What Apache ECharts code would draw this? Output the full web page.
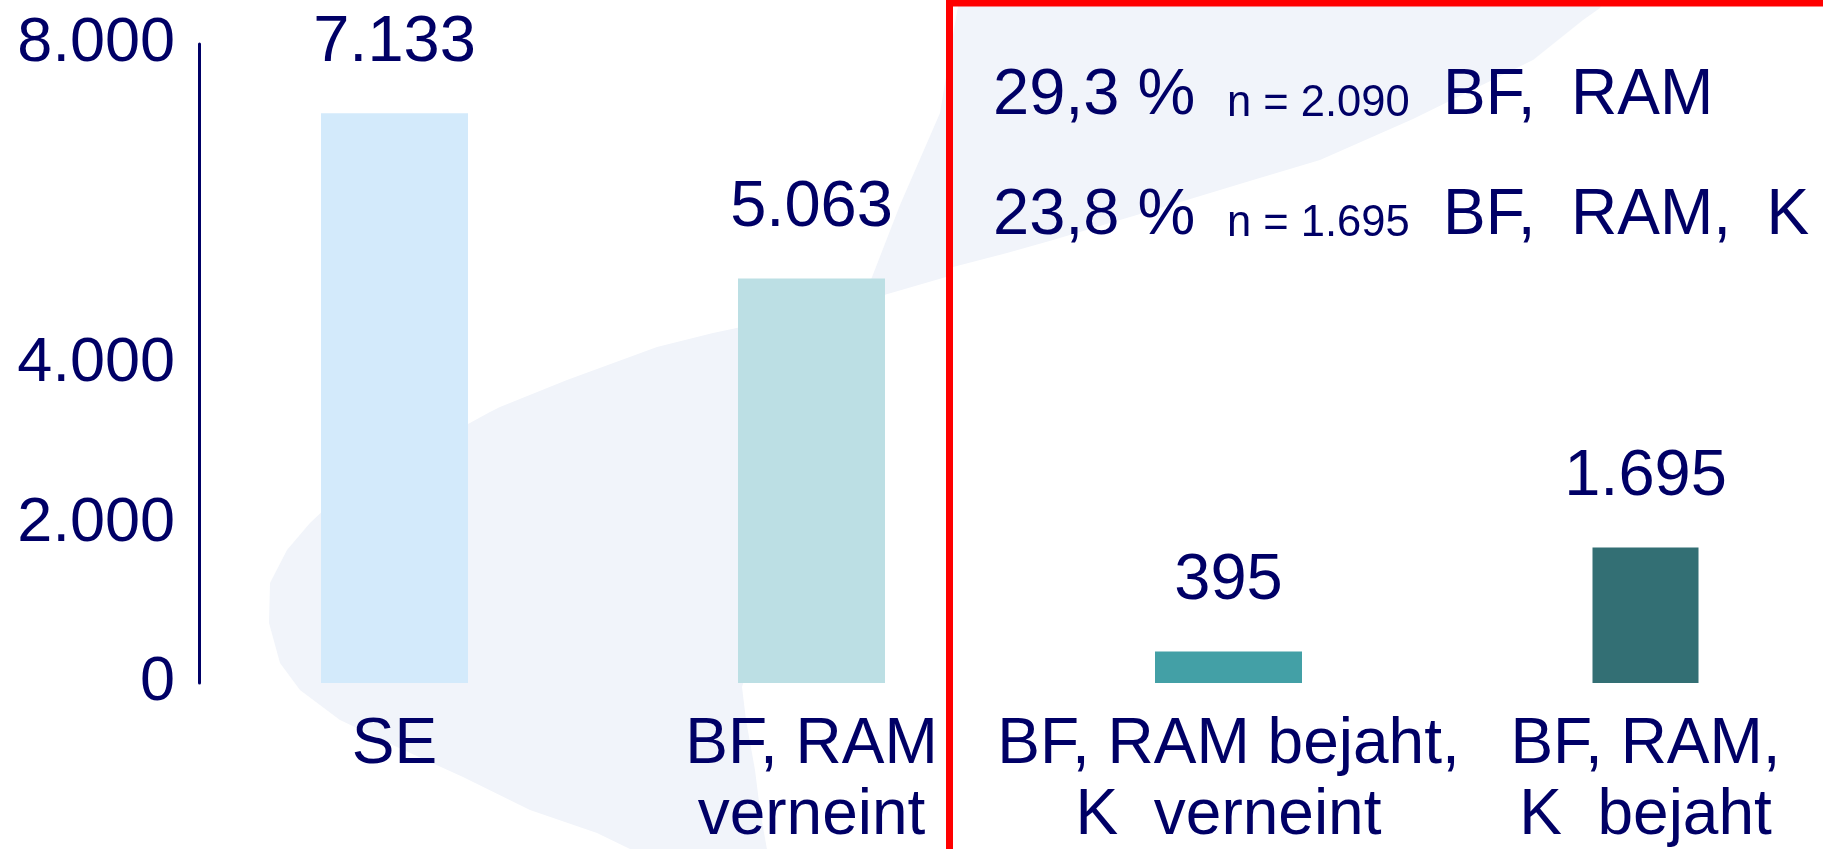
<!DOCTYPE html>
<html><head><meta charset="utf-8">
<script src="https://cdn.jsdelivr.net/npm/echarts@6/dist/echarts.min.js"></script>
<style>html,body{margin:0;padding:0;background:#fff}#c{width:1823px;height:849px}</style>
</head><body><div id="c"></div>
<script>
// ---- data ----
const categories = ['SE', 'BF, RAM\nverneint', 'BF, RAM bejaht,\nK  verneint', 'BF, RAM,\nK  bejaht'];
const counts = [7133, 5063, 395, 1695];
const valueLabels = ['7.133', '5.063', '395', '1.695'];
const yTicks = [0, 2000, 4000, 8000];
const yTickLabels = ['0', '2.000', '4.000', '8.000'];
const shareLabels = ['29,3 %', '23,8 %'];
const nLabels = ['n = 2.090', 'n = 1.695'];
const groupLabels = ['BF,  RAM', 'BF,  RAM,  K'];

// ---- styles ----
const barColors = ['#d3eafb', '#bcdfe4', '#43a0a6', '#336f74'];
const NAVY = '#000066';
const FONT = '"Liberation Sans", Arial, Helvetica, sans-serif';

// decorative background swoosh (not data)
const swoosh = [
  [630,849],[597,833],[530,810],[463,777],[397,747],[340,720],[300,690],[280,663],[269,623],[270,583],
  [287,550],[310,523],[342,493],[490,412],[500,407],[567,380],[657,347],[713,333],[855,303],[867,290],
  [900,205],[940,113],[953,35],[960,-5],[1605,-5],[1600,8],[1583,20],[1533,60],[1413,119],[1320,160],
  [1253,180],[1187,200],[1120,220],[1053,240],[1007,253],[953,267],[946,277],[867,300],[855,310],
  [742,687],[746,720],[755,770],[760,810],[768,855],[630,855]
];

const chart = echarts.init(document.getElementById('c'), null, {renderer: 'canvas'});

const mainData = counts.map((v, i) => i < 3 ? {value: v, itemStyle: {color: barColors[i]}} : '-');
const lastData = counts.map((v, i) => i === 3 ? {value: v, itemStyle: {color: barColors[i]}} : '-');

const valueLabel = {
  show: true, position: 'top', distance: 38,
  formatter: p => valueLabels[p.dataIndex],
  color: NAVY, fontSize: 65, lineHeight: 65, fontFamily: FONT
};

const graphics = [
  {type: 'polygon', z: -10, silent: true, shape: {points: swoosh}, style: {fill: '#f1f4fa'}},
  {type: 'rect', z: 50, silent: true, shape: {x: 949.5, y: 3, width: 1000, height: 1000},
   style: {fill: 'none', stroke: '#ff0000', lineWidth: 7}}
];
const rowsY = [96, 216];
shareLabels.forEach((t, i) => {
  graphics.push({type: 'text', z: 50, x: 993, y: rowsY[i],
    style: {text: t, font: '65px ' + FONT, fill: NAVY, align: 'left', verticalAlign: 'middle'}});
  graphics.push({type: 'text', z: 50, x: 1227, y: rowsY[i] + 7.5,
    style: {text: nLabels[i], font: '43.5px ' + FONT, fill: NAVY, align: 'left', verticalAlign: 'middle'}});
  graphics.push({type: 'text', z: 50, x: 1443, y: rowsY[i],
    style: {text: groupLabels[i], font: '64px ' + FONT, fill: NAVY, align: 'left', verticalAlign: 'middle'}});
});

chart.setOption({
  animation: false,
  backgroundColor: '#ffffff',
  grid: {left: 186, width: 1668, top: 44, bottom: 166, outerBoundsMode: 'none'},
  xAxis: [
    {type: 'category', data: categories,
     axisLine: {show: false}, axisTick: {show: false},
     axisLabel: {interval: 0, color: NAVY, fontSize: 64, lineHeight: 71, margin: 27, fontFamily: FONT}},
    {type: 'category', data: categories, show: false}
  ],
  yAxis: {
    type: 'value', min: 0, max: 8000, interval: 2000, offset: -13,
    axisLine: {show: true, lineStyle: {color: NAVY, width: 3}},
    axisTick: {show: false}, splitLine: {show: false},
    axisLabel: {color: NAVY, fontSize: 63, margin: 24, fontFamily: FONT,
      formatter: v => { const i = yTicks.indexOf(v); return i >= 0 ? yTickLabels[i] : ''; }}
  },
  series: [
    {type: 'bar', xAxisIndex: 0, data: mainData, barWidth: 147, z: 2, label: valueLabel},
    {type: 'bar', xAxisIndex: 1, data: lastData, barWidth: 106, z: 2, label: valueLabel}
  ],
  graphic: {elements: graphics}
});
</script>
</body></html>
